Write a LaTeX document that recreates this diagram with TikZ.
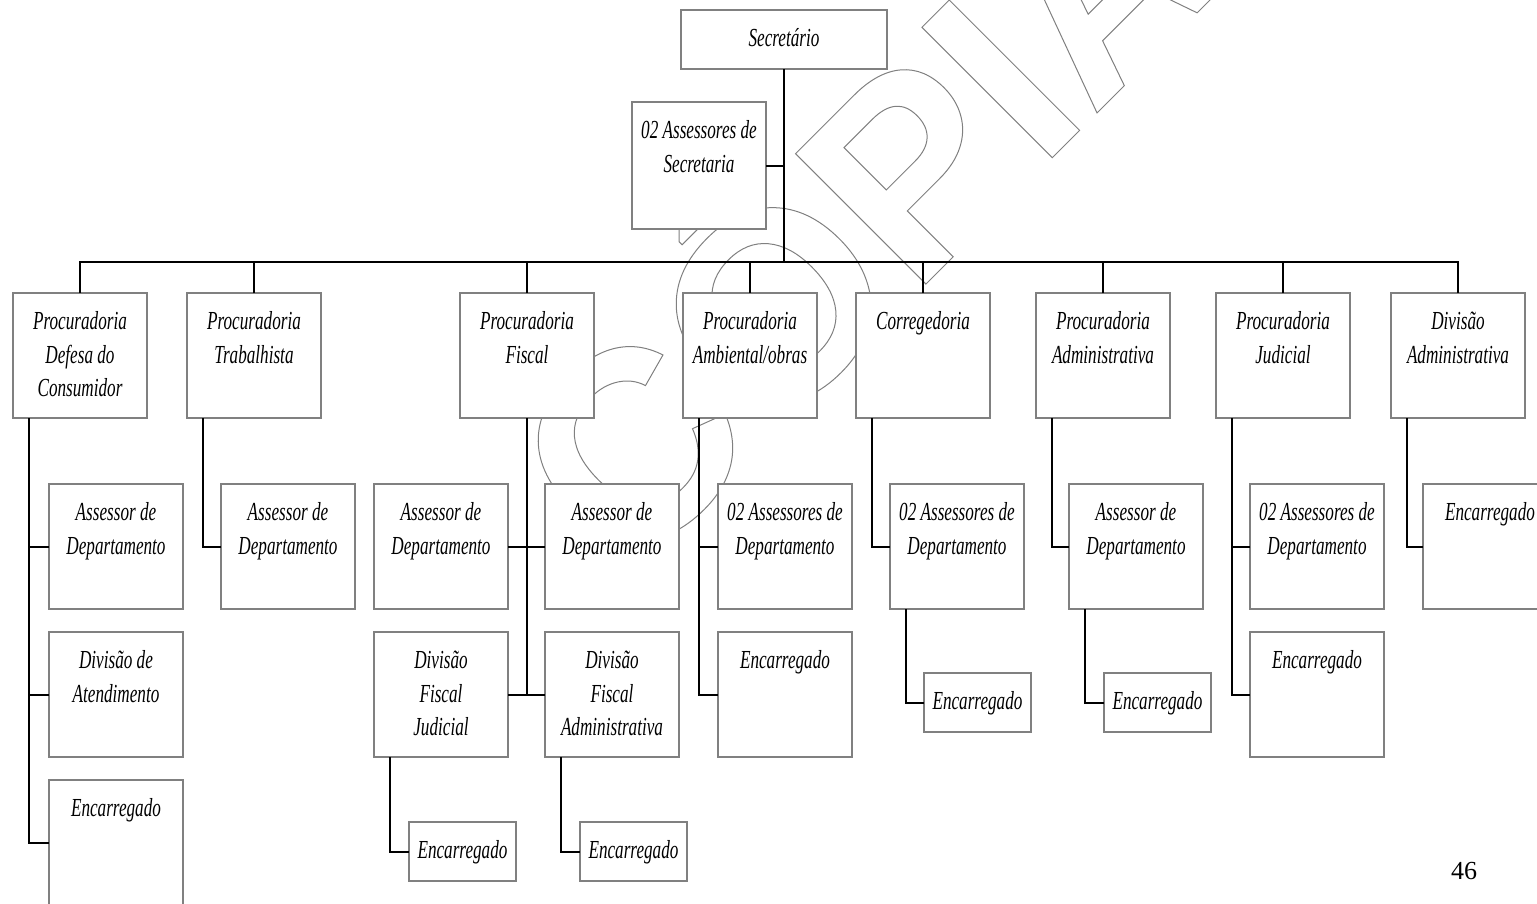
\documentclass[tikz,border=0pt]{standalone}
\usepackage{fontspec}
\setmainfont{Liberation Serif}
\newfontfamily\orgfont{Liberation Serif}[FakeStretch=0.66]
\newfontfamily\wmfont{Liberation Sans}
\tikzset{
  box/.style={draw=black!50, line width=1.6pt, fill=white, inner sep=0pt, outer sep=0pt},
  txt/.style={inner sep=0pt, outer sep=0pt, text width=130pt, anchor=base,
    execute at begin node={\centering\spaceskip=\fontdimen2\font\relax},
    font=\orgfont\itshape\fontsize{26}{33.5}\selectfont},
  conn/.style={draw=black, line width=2pt},
  wm/.style={inner sep=0pt, outer sep=0pt, font=\wmfont\bfseries\fontsize{268}{268}\selectfont}
}
\newcommand\obox[6]{%
  \node[box, minimum width=#4, minimum height=#5, anchor=north west] (#1) at (#2,#3) {};
  \node[txt] (#1t) at ([yshift=-36.5pt]#1.north) {#6};}
\begin{document}
\begin{tikzpicture}[x=1pt, y=-1pt]
\useasboundingbox (0,0) rectangle (1537,903);
% watermark
\node[wm, rotate=45, anchor=base west] (wm) at (629,581)
  {\special{pdf:literal direct 1 Tr 1 w 0.5 0.5 0.5 RG}CÓPIA\special{pdf:literal direct 0 Tr 0 0 0 RG}};
% boxes
\obox{sec}{681}{10}{206}{59}{Secretário}
\obox{ass}{632}{102}{134}{127}{02 Assessores de\\Secretaria}
\obox{p1}{13}{293}{134}{125}{Procuradoria\\Defesa do\\Consumidor}
\obox{p2}{187}{293}{134}{125}{Procuradoria\\Trabalhista}
\obox{p3}{460}{293}{134}{125}{Procuradoria\\Fiscal}
\obox{p4}{683}{293}{134}{125}{Procuradoria\\Ambiental/obras}
\obox{p5}{856}{293}{134}{125}{Corregedoria}
\obox{p6}{1036}{293}{134}{125}{Procuradoria\\Administrativa}
\obox{p7}{1216}{293}{134}{125}{Procuradoria\\Judicial}
\obox{p8}{1391}{293}{134}{125}{Divisão\\Administrativa}
\obox{c11}{49}{484}{134}{125}{Assessor de\\Departamento}
\obox{c12}{49}{632}{134}{125}{Divisão de\\Atendimento}
\obox{c13}{49}{780}{134}{125}{Encarregado}
\obox{c21}{221}{484}{134}{125}{Assessor de\\Departamento}
\obox{c31}{374}{484}{134}{125}{Assessor de\\Departamento}
\obox{c32}{545}{484}{134}{125}{Assessor de\\Departamento}
\obox{c33}{374}{632}{134}{125}{Divisão\\Fiscal\\Judicial}
\obox{c34}{545}{632}{134}{125}{Divisão\\Fiscal\\Administrativa}
\obox{e33}{409}{822}{107}{59}{Encarregado}
\obox{e34}{580}{822}{107}{59}{Encarregado}
\obox{c41}{718}{484}{134}{125}{02 Assessores de\\Departamento}
\obox{c42}{718}{632}{134}{125}{Encarregado}
\obox{c51}{890}{484}{134}{125}{02 Assessores de\\Departamento}
\obox{e51}{924}{673}{107}{59}{Encarregado}
\obox{c61}{1069}{484}{134}{125}{Assessor de\\Departamento}
\obox{e61}{1104}{673}{107}{59}{Encarregado}
\obox{c71}{1250}{484}{134}{125}{02 Assessores de\\Departamento}
\obox{c72}{1250}{632}{134}{125}{Encarregado}
\obox{c81}{1423}{484}{134}{125}{Encarregado}
% connectors
\coordinate (bar) at (sec.south |- 0,262);
\draw[conn] (sec.south) -- (bar);
\draw[conn] (ass.east) -- (ass.east -| sec.south);
\draw[conn] (p1.north) |- (bar) -| (p8.north);
\foreach \p in {p2,p3,p4,p5,p6,p7} \draw[conn] (\p.north) -- (\p.north |- bar);
% column 1
\coordinate (t1) at ([xshift=16pt]p1.south west);
\draw[conn] (t1) |- (c13.west);
\draw[conn] (c11.west) -- (c11.west -| t1);
\draw[conn] (c12.west) -- (c12.west -| t1);
% column 2
\coordinate (t2) at ([xshift=16pt]p2.south west);
\draw[conn] (t2) |- (c21.west);
% column 3
\draw[conn] (p3.south) -- (p3.south |- c33.east);
\draw[conn] (c31.east) -- (c32.west);
\draw[conn] (c33.east) -- (c34.west);
\coordinate (t33) at ([xshift=16pt]c33.south west);
\draw[conn] (t33) |- (e33.west);
\coordinate (t34) at ([xshift=16pt]c34.south west);
\draw[conn] (t34) |- (e34.west);
% column 4
\coordinate (t4) at ([xshift=16pt]p4.south west);
\draw[conn] (t4) |- (c42.west);
\draw[conn] (c41.west) -- (c41.west -| t4);
% column 5
\coordinate (t5) at ([xshift=16pt]p5.south west);
\draw[conn] (t5) |- (c51.west);
\coordinate (t51) at ([xshift=16pt]c51.south west);
\draw[conn] (t51) |- (e51.west);
% column 6
\coordinate (t6) at ([xshift=16pt]p6.south west);
\draw[conn] (t6) |- (c61.west);
\coordinate (t61) at ([xshift=16pt]c61.south west);
\draw[conn] (t61) |- (e61.west);
% column 7
\coordinate (t7) at ([xshift=16pt]p7.south west);
\draw[conn] (t7) |- (c72.west);
\draw[conn] (c71.west) -- (c71.west -| t7);
% column 8
\coordinate (t8) at ([xshift=16pt]p8.south west);
\draw[conn] (t8) |- (c81.west);
% page number
\node[inner sep=0pt, font=\fontsize{26}{26}\selectfont] (pg) at (1464,871) {46};
\end{tikzpicture}
\end{document}
